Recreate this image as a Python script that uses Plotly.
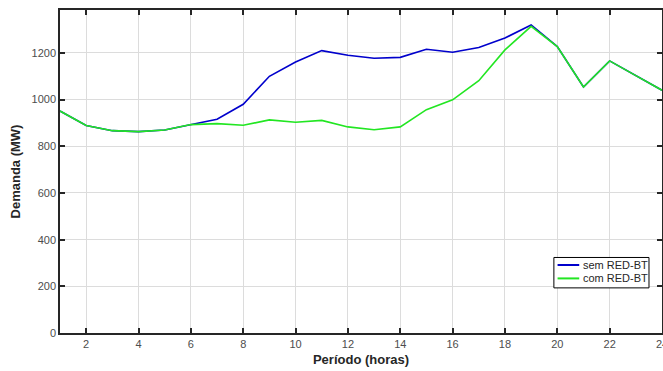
import plotly.graph_objects as go

hours = list(range(1, 25))
sem_red_bt = [951, 889, 867, 863, 870, 893, 916, 980, 1100, 1161, 1210, 1190,
              1177, 1181, 1216, 1203, 1223, 1264, 1320, 1227, 1054, 1166, 1103, 1040]
com_red_bt = [951, 889, 867, 863, 870, 893, 897, 890, 913, 903, 911, 883,
              871, 883, 957, 999, 1081, 1213, 1314, 1227, 1054, 1166, 1103, 1040]
series_names = ["sem RED-BT", "com RED-BT"]
series_colors = ["#0000cc", "#22e622"]
x_ticks = list(range(2, 25, 2))
y_ticks = list(range(0, 1201, 200))

FONT = "Liberation Sans, Arial, sans-serif"

fig = go.Figure()
for name, vals, col in zip(series_names, [sem_red_bt, com_red_bt], series_colors):
    fig.add_trace(go.Scatter(x=hours, y=vals, mode="lines", name=name,
                             line=dict(color=col, width=1.6)))

axis_common = dict(showline=True, linecolor="#262626", linewidth=1.5, mirror="ticks",
                   ticks="inside", ticklen=5, tickwidth=1.5, tickcolor="#262626",
                   showgrid=True, gridcolor="#dcdcdc", gridwidth=1, zeroline=False,
                   automargin=False, ticklabeloverflow="allow",
                   tickfont=dict(family=FONT, size=11, color="#4d4d4d"))

# manual MATLAB-style legend box
lx0, lx1, ly0, ly1 = 0.8204, 0.9784, 0.1397, 0.2338
fig.add_shape(type="rect", xref="paper", yref="paper", x0=lx0, x1=lx1, y0=ly0, y1=ly1,
              line=dict(color="black", width=1), fillcolor="white", layer="above")
for i, (name, col) in enumerate(zip(series_names, series_colors)):
    yy = 0.2105 - i * 0.0415
    fig.add_shape(type="line", xref="paper", yref="paper", x0=0.8265, x1=0.8625,
                  y0=yy, y1=yy, line=dict(color=col, width=2), layer="above")
    fig.add_annotation(xref="paper", yref="paper", x=0.866, y=yy, text=name,
                       showarrow=False, xanchor="left", yanchor="middle",
                       font=dict(family=FONT, size=11, color="#262626"))

fig.update_layout(
    width=663, height=371,
    margin=dict(l=60, r=1, t=10, b=38),
    paper_bgcolor="white", plot_bgcolor="white",
    xaxis=dict(range=[1, 24], tickvals=x_ticks,
               title=dict(text="<b>Período (horas)</b>", standoff=6,
                          font=dict(family=FONT, size=13, color="#262626")),
               **axis_common),
    yaxis=dict(range=[0, 1384], tickvals=y_ticks,
               title=dict(text="<b>Demanda (MW)</b>", standoff=8,
                          font=dict(family=FONT, size=13, color="#262626")),
               **axis_common),
    showlegend=False,
)

fig.write_html("out.html", config={"displayModeBar": False},
               post_script="document.body.style.margin='0';document.body.style.overflow='hidden';")
